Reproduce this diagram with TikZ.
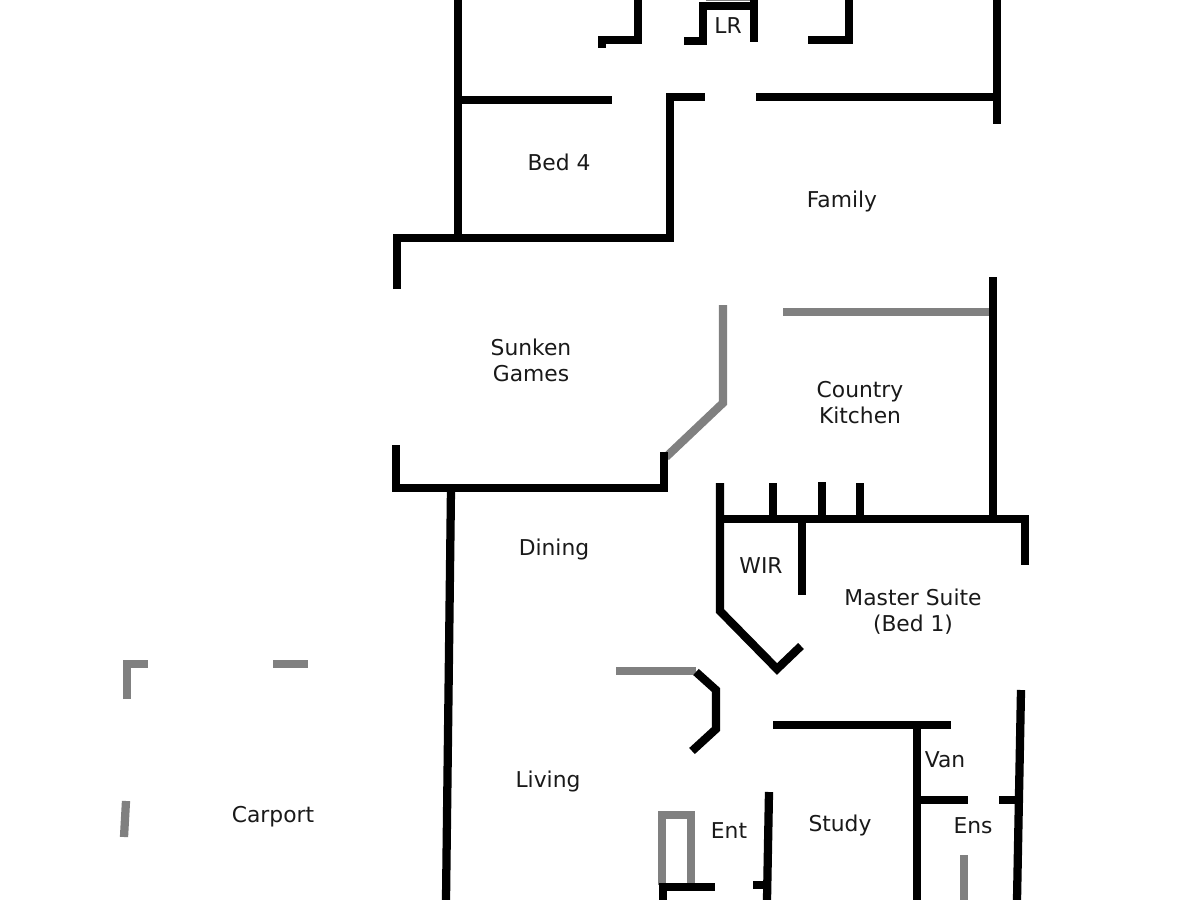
\documentclass[tikz,border=0pt]{standalone}
\usepackage{fontspec}
\setmainfont{DejaVu Sans}
\tikzset{
  wall/.style={draw=black,line width=2.35pt},
  glass/.style={draw=black!50,line width=2.35pt},
  room/.style={font=\fontsize{6.2}{7.4}\selectfont,align=center,text=black!90,inner sep=0pt},
}
\begin{document}
\begin{tikzpicture}[x=0.01cm,y=-0.01cm]
    \useasboundingbox (0,0) rectangle (1200,900);
    %% Glass
    \draw[glass] (706,-3) -- (754,-3);
    \draw[glass] (783,312) -- (990,312);
    \draw[glass] (723,305) -- (723,403) -- (666,457);
    \draw[glass] (616,671) -- (696,671);
    \draw[glass] (662,885) -- (662,815) -- (691,815) -- (691,885);
    \draw[glass] (964,855) -- (964,900);
    %% Carport
    \draw[glass] (127,699) -- (127,664) -- (148,664);
    \draw[glass] (273,664) -- (308,664);
    \draw[glass] (126,801) -- (124,837);
    %% Walls
    \draw[wall] (458,0) -- (458,238);
    \draw[wall] (458,100) -- (612,100);
    \draw[wall] (397,289) -- (397,238) -- (670,238) -- (670,97) -- (705,97);
    \draw[wall] (756,97) -- (997,97);
    \draw[wall] (997,0) -- (997,124);
    \draw[wall] (638,0) -- (638,40) -- (600,40);
    \draw[wall] (602,36) -- (602,48);
    \draw[wall] (684,41) -- (703,41) -- (703,6) -- (754,6);
    \draw[wall] (754,0) -- (754,42);
    \draw[wall] (849,0) -- (849,40) -- (808,40);
    \draw[wall] (993,277) -- (993,519);
    \draw[wall] (396,445) -- (396,488) -- (664,488) -- (664,452);
    \draw[wall] (451,488) -- (446,900);
    \draw[wall] (720,483) -- (720,611) -- (777,669) -- (801,646);
    \draw[wall] (720,519) -- (1025,519) -- (1025,565);
    \draw[wall] (773,483) -- (773,519);
    \draw[wall] (822,482) -- (822,519);
    \draw[wall] (860,483) -- (860,519);
    \draw[wall] (802,519) -- (802,595);
    \draw[wall] (696,672) -- (716,690) -- (716,729) -- (692,751);
    \draw[wall] (773,725) -- (951,725);
    \draw[wall] (917,725) -- (917,900);
    \draw[wall] (917,800) -- (968,800);
    \draw[wall] (1021,690) -- (1017,900);
    \draw[wall] (999,800) -- (1019,800);
    \draw[wall] (769,792) -- (767,900);
    \draw[wall] (753,885) -- (768,885);
    \draw[wall] (663,900) -- (663,887) -- (715,887);
    %% Rooms
    \node[room] (lr) at (728,26) {LR};
    \node[room] (bedfour) at (559,162) {Bed 4};
    \node[room] (family) at (842,201) {Family};
    \node[room] (games) at (531,360) {Sunken\\Games};
    \node[room] (kitchen) at (860,403) {Country\\Kitchen};
    \node[room] (dining) at (554,549) {Dining};
    \node[room] (wir) at (761,566) {WIR};
    \node[room] (master) at (913,612) {Master Suite\\(Bed 1)};
    \node[room] (van) at (945,760) {Van};
    \node[room] (living) at (548,781) {Living};
    \node[room] (carport) at (273,817) {Carport};
    \node[room] (study) at (840,825) {Study};
    \node[room] (ens) at (973,826) {Ens};
    \node[room] (ent) at (729,831) {Ent};
\end{tikzpicture}
\end{document}
